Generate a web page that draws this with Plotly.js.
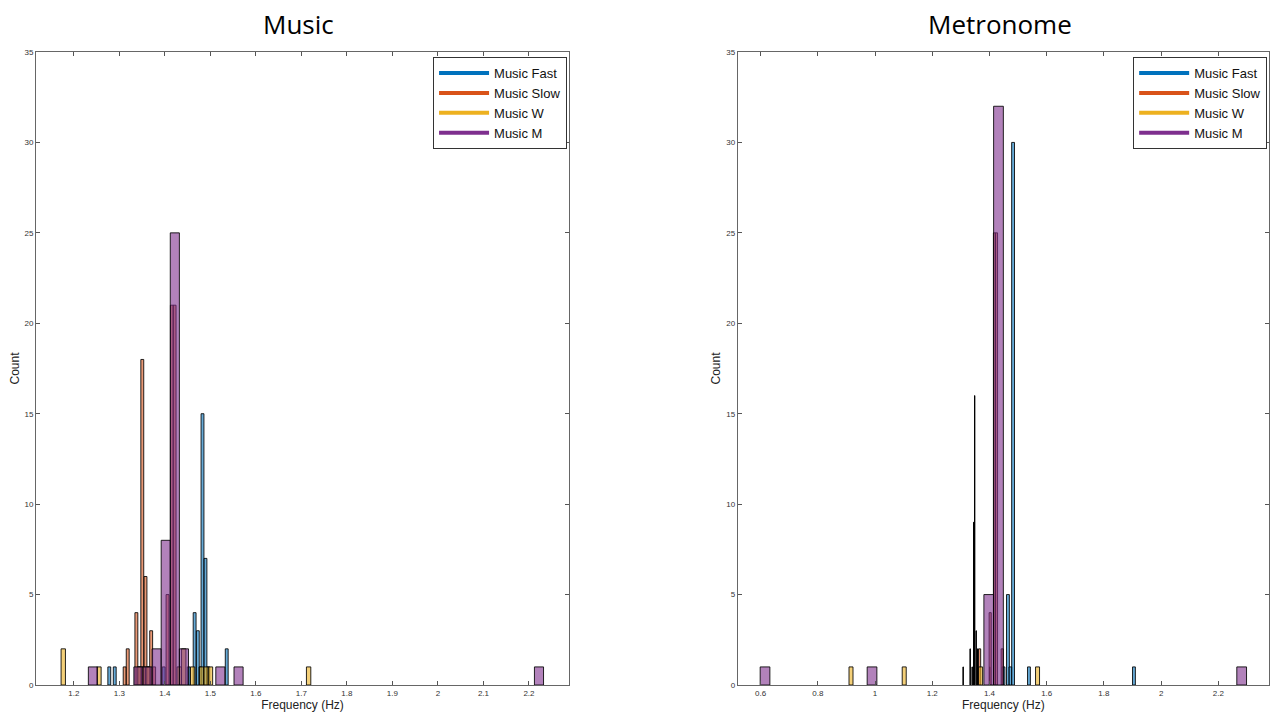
<!DOCTYPE html>
<html>
<head>
<meta charset="utf-8">
<script src="https://cdn.plot.ly/plotly-3.0.1.min.js"></script>
<style>html,body{margin:0;padding:0;background:#fff;}#chart{width:1280px;height:718px;}</style>
</head>
<body>
<div id="chart"></div>
<script>
// ---------- DATA (bin centres in Hz, counts) ----------
const seriesNames = ["Music Fast", "Music Slow", "Music W", "Music M"];
const panelTitles = ["Music", "Metronome"];
const xLabel = "Frequency (Hz)";
const yLabel = "Count";

// Left panel: Music
const musicFastX  = [1.278, 1.290, 1.3975, 1.4525, 1.4655, 1.4725, 1.4785, 1.4828, 1.4893, 1.4955, 1.536];
const musicFastY  = [1, 1, 1, 1, 4, 3, 1, 15, 7, 1, 2];
const musicSlowX  = [1.3118, 1.3185, 1.3375, 1.3445, 1.3505, 1.3575, 1.3635, 1.3700, 1.3765, 1.406, 1.4155, 1.4215];
const musicSlowY  = [1, 2, 4, 1, 18, 6, 1, 3, 1, 5, 21, 21];
const musicWX     = [1.1769, 1.2553, 1.3437, 1.3533, 1.3631, 1.4317, 1.4415, 1.4611, 1.4807, 1.4905, 1.5003, 1.7159];
const musicWY     = [2, 1, 1, 1, 1, 1, 2, 1, 1, 1, 1, 1];
const musicMX     = [1.242, 1.342, 1.362, 1.382, 1.402, 1.422, 1.442, 1.522, 1.562, 2.222];
const musicMY     = [1, 1, 1, 2, 8, 25, 2, 1, 1, 1];

// Right panel: Metronome
const metroFastX  = [1.449, 1.4645, 1.473, 1.4825, 1.538, 1.905];
const metroFastY  = [1, 5, 1, 30, 1, 1];
const metroSlowX  = [1.3655, 1.4025, 1.4175, 1.4245, 1.4445];
const metroSlowY  = [2, 4, 25, 25, 2];
const metroWX     = [0.916, 1.102, 1.369, 1.568];
const metroWY     = [1, 1, 1, 1];
const metroMX     = [0.6155, 0.9895, 1.3975, 1.4315, 2.2815];
const metroMY     = [1, 1, 5, 32, 1];
const metroBlackX = [1.308, 1.3325, 1.3395, 1.3448, 1.3483, 1.3535, 1.3588, 1.4010];
const metroBlackY = [1, 2, 1, 9, 16, 3, 2, 1];

const yTicks = [0, 5, 10, 15, 20, 25, 30, 35];
const leftTicks = [1.2, 1.3, 1.4, 1.5, 1.6, 1.7, 1.8, 1.9, 2, 2.1, 2.2];
const leftTickText = ["1.2", "1.3", "1.4", "1.5", "1.6", "1.7", "1.8", "1.9", "2", "2.1", "2.2"];
const rightTicks = [0.6, 0.8, 1, 1.2, 1.4, 1.6, 1.8, 2, 2.2];
const rightTickText = ["0.6", "0.8", "1", "1.2", "1.4", "1.6", "1.8", "2", "2.2"];

// ---------- STYLE ----------
const lineColors = ["#0072BD", "#D95319", "#EDB120", "#7E2F8E"];
const fillColors = ["rgba(0,114,189,0.6)", "rgba(217,83,25,0.6)", "rgba(237,177,32,0.6)", "rgba(126,47,142,0.6)"];
const leftWidths  = [0.0063, 0.0064, 0.0096, 0.0200];
const rightWidths = [0.0100, 0.0075, 0.0140, 0.0340];

function bars(x, y, i, w, xa, ya) {
  return {
    type: "bar", x: x, y: y, width: w, xaxis: xa, yaxis: ya,
    showlegend: false, hoverinfo: "x+y",
    marker: { color: fillColors[i], line: { color: "rgba(0,0,0,0.85)", width: 1 } }
  };
}
function legendLine(i, xa, ya, grp) {
  return {
    type: "scatter", mode: "lines", x: [null], y: [null], xaxis: xa, yaxis: ya,
    name: seriesNames[i], legend: grp, showlegend: true,
    line: { color: lineColors[i], width: 4 }
  };
}

const leftData = [[musicFastX, musicFastY], [musicSlowX, musicSlowY], [musicWX, musicWY], [musicMX, musicMY]];
const rightData = [[metroFastX, metroFastY], [metroSlowX, metroSlowY], [metroWX, metroWY], [metroMX, metroMY]];

const traces = [];
leftData.forEach((d, i) => traces.push(bars(d[0], d[1], i, leftWidths[i], "x", "y")));
traces.push({
  type: "bar", x: metroBlackX, y: metroBlackY, width: 0.0012, xaxis: "x2", yaxis: "y2",
  showlegend: false, marker: { color: "#000", line: { color: "#000", width: 1 } }
});
rightData.forEach((d, i) => traces.push(bars(d[0], d[1], i, rightWidths[i], "x2", "y2")));
for (let i = 0; i < 4; i++) traces.push(legendLine(i, "x", "y", "legend"));
for (let i = 0; i < 4; i++) traces.push(legendLine(i, "x2", "y2", "legend2"));

const tickFont = { family: "Liberation Sans, Arial, sans-serif", size: 8, color: "#333" };
const labelFont = { family: "Liberation Sans, Arial, sans-serif", size: 12, color: "#222" };
function xAxis(range, vals, text, domain, anchor) {
  return {
    domain: domain, range: range, anchor: anchor,
    tickmode: "array", tickvals: vals, ticktext: text,
    ticks: "inside", ticklen: 4, tickcolor: "#555", tickwidth: 1,
    showline: true, linecolor: "#666", linewidth: 1, mirror: "ticks",
    showgrid: false, zeroline: false, tickfont: tickFont,
    title: { text: xLabel, font: labelFont, standoff: 2 }
  };
}
function yAxis(anchor) {
  return {
    range: [0, 35], anchor: anchor,
    tickmode: "array", tickvals: yTicks,
    ticks: "inside", ticklen: 4, tickcolor: "#555", tickwidth: 1,
    showline: true, linecolor: "#666", linewidth: 1, mirror: "ticks",
    showgrid: false, zeroline: false, tickfont: tickFont,
    title: { text: yLabel, font: labelFont, standoff: 2 }
  };
}
const legendStyle = (x) => ({
  x: x, y: 0.992, xanchor: "right", yanchor: "top",
  bgcolor: "#fff", bordercolor: "#333", borderwidth: 1,
  font: { family: "Liberation Sans, Arial, sans-serif", size: 13, color: "#111" },
  tracegroupgap: 0, itemwidth: 50, traceorder: "normal"
});

const titleFont = { family: "Open Sans, Liberation Sans, sans-serif", size: 26, color: "#000" };
const layout = {
  width: 1280, height: 718,
  margin: { l: 36, r: 11, t: 52, b: 33 },
  paper_bgcolor: "#fff", plot_bgcolor: "#fff",
  barmode: "overlay", bargap: 0,
  showlegend: true,
  xaxis: xAxis([1.117, 2.288], leftTicks, leftTickText, [0, 0.4323], "y"),
  yaxis: yAxis("x"),
  xaxis2: xAxis([0.52, 2.377], rightTicks, rightTickText, [0.5691, 1], "y2"),
  yaxis2: yAxis("x2"),
  legend: legendStyle(0.4307),
  legend2: legendStyle(0.9985),
  annotations: [
    { text: panelTitles[0], xref: "paper", yref: "paper", x: 0.213, xanchor: "center", y: 1, yshift: 28,
      yanchor: "middle", showarrow: false, font: titleFont },
    { text: panelTitles[1], xref: "paper", yref: "paper", x: 0.782, xanchor: "center", y: 1, yshift: 28,
      yanchor: "middle", showarrow: false, font: titleFont }
  ]
};

Plotly.newPlot("chart", traces, layout, { displayModeBar: false, staticPlot: true });
</script>
</body>
</html>
